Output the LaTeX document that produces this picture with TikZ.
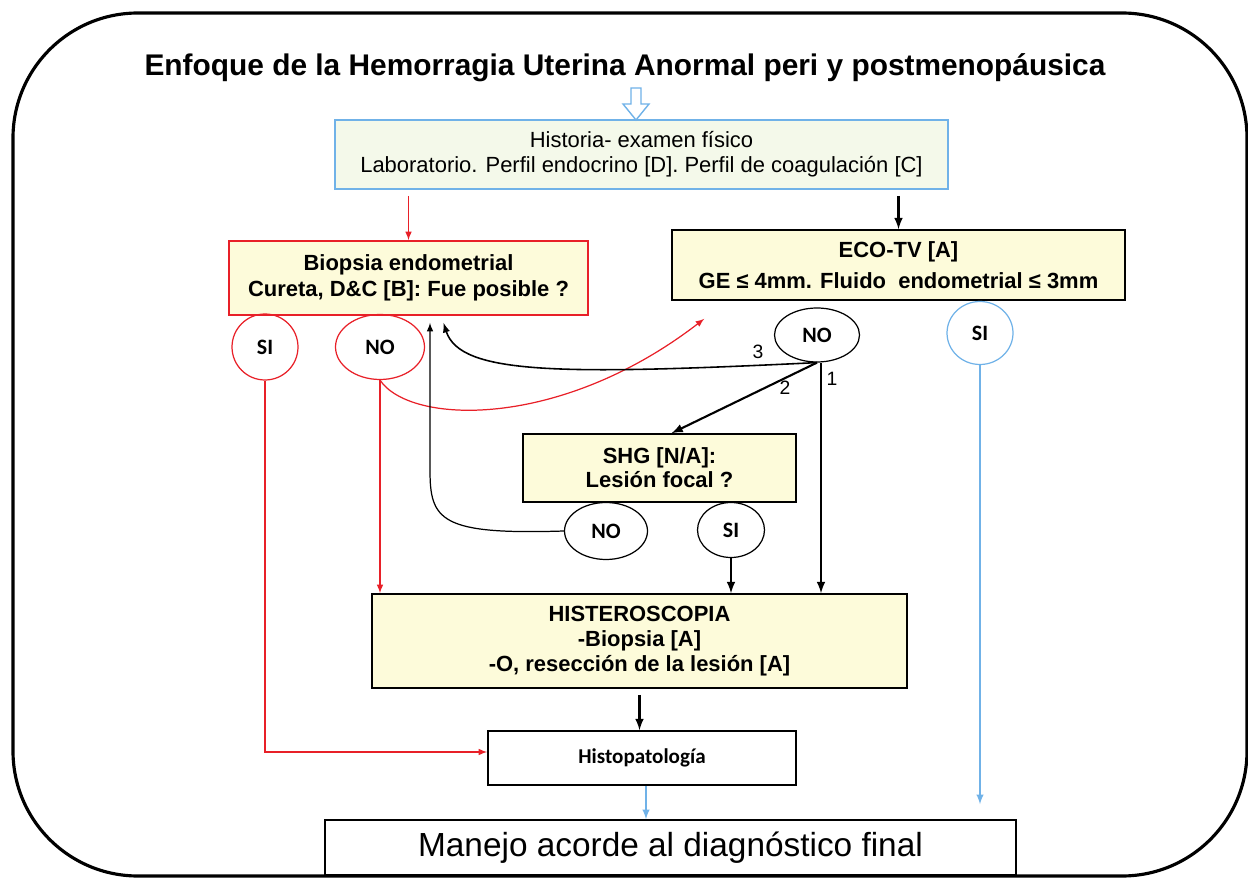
\documentclass[tikz,border=0pt]{standalone}
\usepackage{fontspec}
\setmainfont{Liberation Sans}
\newfontfamily\carlito{Carlito}
\usetikzlibrary{arrows,shapes.geometric}
\definecolor{crema}{RGB}{253,251,218}
\definecolor{verdoso}{RGB}{244,249,234}
\definecolor{celeste}{RGB}{112,178,232}
\definecolor{rojo}{RGB}{232,32,40}

\begin{document}
\begin{tikzpicture}[x = 0.02cm, y = -0.02cm]
\tikzstyle{Caja}=[draw, line width = 0.9pt, fill = crema, align = center,
                  inner sep = 0pt, font = \fontsize{12.5}{15}\selectfont\bfseries]
\tikzstyle{CajaHist}=[draw = celeste, line width = 0.9pt, fill = verdoso, align = center,
                      inner sep = 0pt, font = \fontsize{12.5}{14.2}\selectfont]
\tikzstyle{CajaBlanca}=[draw, line width = 0.9pt, fill = white, align = center, inner sep = 0pt]
\tikzstyle{Resp}=[ellipse, draw, line width = 0.7pt, inner sep = 0pt,
                  font = \carlito\bfseries\fontsize{12.5}{12}\selectfont]
\tikzstyle{Num}=[inner sep = 0pt, font = \fontsize{11}{11}\selectfont]
\tikzstyle{FlechaRoja}=[draw = rojo, line width = 0.7pt, -latex]
\tikzstyle{FlechaNegra}=[draw = black, line width = 1.2pt, -latex]
\tikzstyle{FlechaFina}=[draw = black, line width = 0.7pt, -latex]
\tikzstyle{FlechaAzul}=[draw = celeste, line width = 0.9pt, -latex]
\useasboundingbox (0,0) rectangle (1248,878);
\draw[line width = 1.8pt, rounded corners = 2.5cm] (13,13) rectangle (1247,876);
% titulo y cajas
\node (titulo) at (625,68) {\fontsize{17}{20}\selectfont\bfseries Enfoque de la Hemorragia Uterina Anormal peri y postmenopáusica};
\node[CajaHist, minimum width = 12.26cm, minimum height = 1.38cm] (hist) at (641.5,154.5)
  {Historia- examen físico\\Laboratorio. Perfil endocrino [D]. Perfil de coagulación [C]};
\node[Caja, draw = rojo, minimum width = 7.18cm, minimum height = 1.48cm] (biop) at (408.5,278)
  {Biopsia endometrial\\Cureta, D\&C [B]: Fue posible ?};
\node[Caja, minimum width = 9.06cm, minimum height = 1.40cm,
      font = \fontsize{12.5}{17.5}\selectfont\bfseries] (eco) at (898.5,265)
  {ECO-TV [A]\\GE ≤ 4mm. Fluido \ endometrial ≤ 3mm};
\node[Caja, minimum width = 5.46cm, minimum height = 1.36cm, font = \fontsize{12.5}{13.6}\selectfont\bfseries] (shg) at (659.5,468)
  {SHG [N/A]:\\Lesión focal ?};
\node[Caja, minimum width = 10.7cm, minimum height = 1.88cm, font = \fontsize{12.5}{14.2}\selectfont\bfseries] (hister) at (639.5,641)
  {HISTEROSCOPIA\\-Biopsia [A]\\-O, resección de la lesión [A]};
\node[CajaBlanca, minimum width = 6.16cm, minimum height = 1.08cm,
      font = \carlito\bfseries\fontsize{12}{12}\selectfont] (histo) at (642,758) {Histopatología};
\node[CajaBlanca, minimum width = 13.82cm, minimum height = 1.10cm,
      font = \fontsize{19}{22}\selectfont] (manejo) at (670.5,847.5) {Manejo acorde al diagnóstico final};
% respuestas
\node[Resp, draw = rojo, minimum width = 1.32cm, minimum height = 1.32cm] (siA) at (265,347) {SI};
\node[Resp, draw = rojo, minimum width = 1.78cm, minimum height = 1.30cm] (noA) at (380,347) {NO};
\node[Resp, minimum width = 1.70cm, minimum height = 1.08cm] (noB) at (817,335) {NO};
\node[Resp, draw = celeste, minimum width = 1.32cm, minimum height = 1.26cm] (siB) at (980,333) {SI};
\node[Resp, minimum width = 1.66cm, minimum height = 1.14cm] (noC) at (606,531) {NO};
\node[Resp, minimum width = 1.34cm, minimum height = 1.10cm] (siC) at (731,530) {SI};
\node[Num] (uno) at (832,379) {1};
\node[Num] (dos) at (785,388) {2};
\node[Num] (tres) at (758,352) {3};
% flecha de entrada
\coordinate (entrada) at (636,120);
\draw[celeste, line width = 0.8pt, fill = white] ([shift = {(-5,-32)}]entrada) -- ([shift = {(5,-32)}]entrada)
  -- ([shift = {(5,-16)}]entrada) -- ([shift = {(13,-16)}]entrada) -- (entrada)
  -- ([shift = {(-13,-16)}]entrada) -- ([shift = {(-5,-16)}]entrada) -- cycle;
% conectores
\draw[FlechaRoja, shorten <= 0.12cm] (hist.south -| biop.north) -- (biop.north);
\draw[FlechaNegra, shorten <= 0.12cm] (hist.south -| eco.north) -- (eco.north);
\draw[FlechaRoja] (noA.south) -- (noA.south |- hister.north);
\draw[FlechaRoja] (siA.south) |- ([shift = {(0,-6)}]histo.west);
\draw[FlechaRoja] (noA.south) .. controls (410,425) and (560,430) .. ([shift = {(33,18)}]eco.south west);
\draw[FlechaFina, line width = 0.9pt] (noB.south) .. controls (560,375) and (460,375) .. ([shift = {(35,7)}]biop.south);
\draw[FlechaNegra] (noB.south) -- ([shift = {(12,0)}]shg.north);
\draw[FlechaNegra] ([shift = {(4,0)}]noB.south) -- ([shift = {(4,0)}]noB.south |- hister.north);
\draw[FlechaFina] (noC.west) .. controls (440,535) and (430,520) .. (430,470) -- ([shift = {(21.5,7)}]biop.south);
\draw[FlechaNegra] (siC.south) -- (siC.south |- hister.north);
\draw[FlechaNegra, shorten <= 0.12cm] (hister.south) -- (hister.south |- histo.north);
\draw[FlechaAzul] ([shift = {(4,0)}]histo.south) -- ([shift = {(4,0)}]histo.south |- manejo.north);
\draw[FlechaAzul, shorten >= 0.3cm] (siB.south) -- (siB.south |- manejo.north);
\end{tikzpicture}
\end{document}
